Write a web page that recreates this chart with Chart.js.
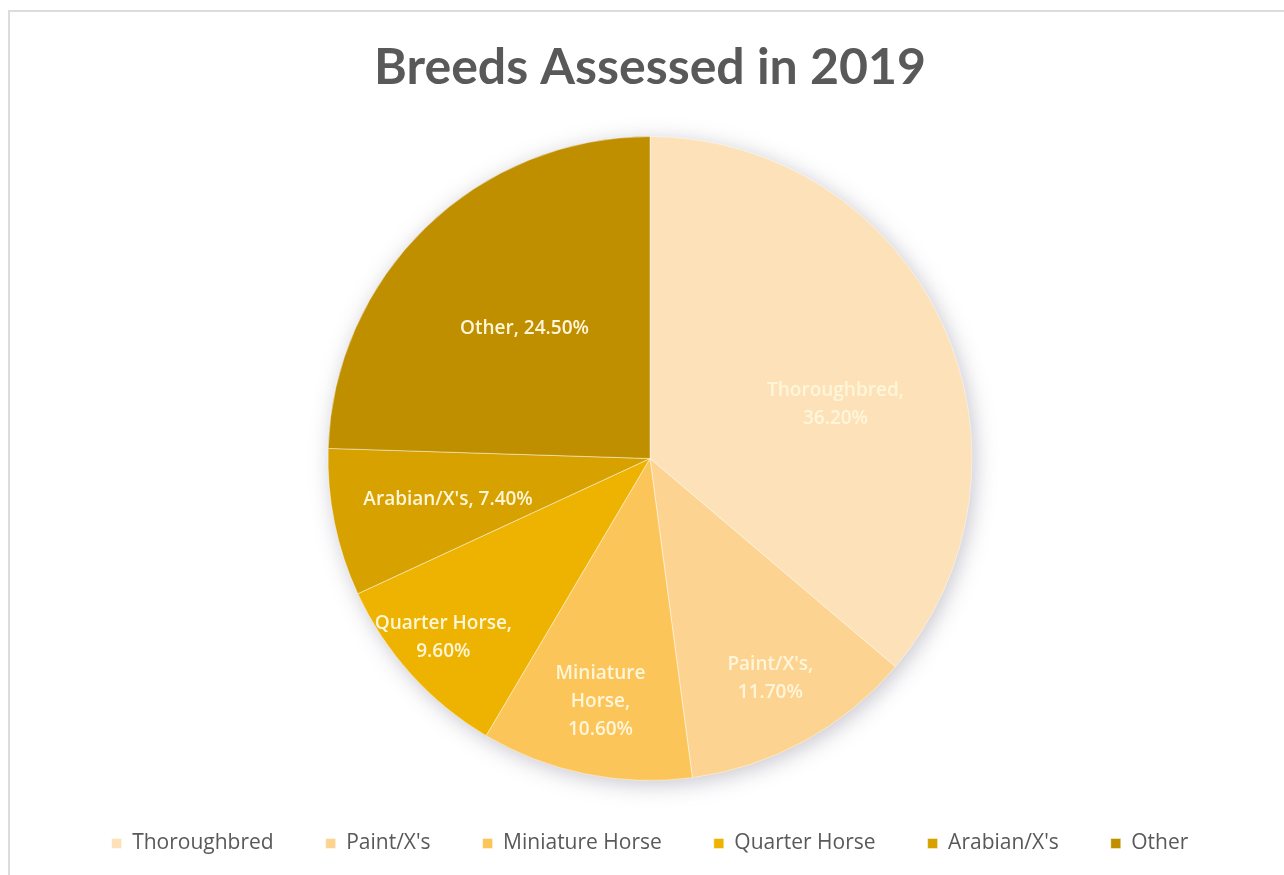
<!DOCTYPE html>
<html>
<head>
<meta charset="utf-8">
<script src="https://cdn.jsdelivr.net/npm/chart.js@4"></script>
<style>
  html, body { margin: 0; padding: 0; background: #fff; }
  #frame { position: absolute; left: 8px; top: 10px; width: 1300px; height: 900px;
           border-top: 2px solid #dcdcdc; border-left: 2px solid #dcdcdc; }
  #wrap { position: absolute; left: 0; top: 0; width: 1284px; height: 875px; }
</style>
</head>
<body>
<div id="frame"></div>
<div id="wrap"><canvas id="chartContainer"></canvas></div>
<script>
const breeds = ["Thoroughbred", "Paint/X's", "Miniature Horse", "Quarter Horse", "Arabian/X's", "Other"];
const shares = [36.2, 11.7, 10.6, 9.6, 7.4, 24.5];
const sliceColors = ["#FDE1B8", "#FDD391", "#FCC55A", "#EDB300", "#D7A100", "#BF8F00"];

// label lines, the way excel wrapped them
const labelLines = [
  ["Thoroughbred,", "36.20%"],
  ["Paint/X's,", "11.70%"],
  ["Miniature", "Horse,", "10.60%"],
  ["Quarter Horse,", "9.60%"],
  ["Arabian/X's, 7.40%"],
  ["Other, 24.50%"]
];
// how far out (share of radius) each label sits, and a small angle nudge (rad)
const labelRadius = [0.6, 0.78, 0.77, 0.85, 0.64, 0.56];
const labelNudge = [0.15, 0, 0, 0.02, 0, 0];

const pieShadow = {
  id: "pieShadow",
  beforeDatasetsDraw(chart) {
    const arc = chart.getDatasetMeta(0).data[0];
    if (!arc) return;
    const ctx = chart.ctx;
    ctx.save();
    ctx.shadowColor = "rgba(120,120,140,0.45)";
    ctx.shadowBlur = 22;
    ctx.shadowOffsetX = 3;
    ctx.shadowOffsetY = 4;
    ctx.fillStyle = "#ffffff";
    ctx.beginPath();
    ctx.arc(arc.x, arc.y, arc.outerRadius - 1, 0, Math.PI * 2);
    ctx.fill();
    ctx.restore();
  }
};

const sliceLabels = {
  id: "sliceLabels",
  afterDatasetsDraw(chart) {
    const ctx = chart.ctx;
    const meta = chart.getDatasetMeta(0);
    ctx.save();
    ctx.font = "600 19px 'Open Sans', Lato, sans-serif";
    ctx.fillStyle = "#FFF6DA";
    ctx.textAlign = "center";
    ctx.textBaseline = "middle";
    meta.data.forEach((arc, i) => {
      const mid = (arc.startAngle + arc.endAngle) / 2 + labelNudge[i];
      const r = arc.outerRadius * labelRadius[i];
      const x = arc.x + Math.cos(mid) * r;
      const y = arc.y + Math.sin(mid) * r;
      const lines = labelLines[i];
      const lh = 28;
      lines.forEach((t, k) => {
        ctx.fillText(t, x, y + (k - (lines.length - 1) / 2) * lh);
      });
    });
    ctx.restore();
  }
};

new Chart(document.getElementById("chartContainer"), {
  type: "pie",
  data: {
    labels: breeds,
    datasets: [{
      data: shares,
      backgroundColor: sliceColors,
      borderColor: "rgba(255,255,255,0.45)",
      borderWidth: 1
    }]
  },
  options: {
    responsive: true,
    maintainAspectRatio: false,
    animation: false,
    layout: { padding: { left: 16, right: 0, top: 0, bottom: 11 } },
    plugins: {
      title: {
        display: true,
        text: "Breeds Assessed in 2019",
        color: "#595959",
        font: { family: "Lato, 'Open Sans', sans-serif", size: 50, weight: "bold" },
        padding: { top: 38, bottom: 38 }
      },
      legend: {
        position: "bottom",
        labels: {
          color: "#595959",
          font: { family: "'Open Sans', Lato, sans-serif", size: 21 },
          boxWidth: 10,
          boxHeight: 10,
          padding: 52
        }
      },
      tooltip: { enabled: false }
    }
  },
  plugins: [pieShadow, sliceLabels]
});
</script>
</body>
</html>
